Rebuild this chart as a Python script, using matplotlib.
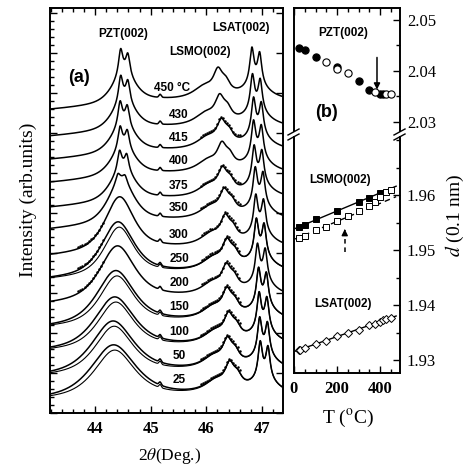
import numpy as np
import matplotlib
matplotlib.use("Agg")
import matplotlib.pyplot as plt
from matplotlib.lines import Line2D
from matplotlib.ticker import MultipleLocator, FixedLocator

plt.rcParams['mathtext.fontset'] = 'stix'
SERIF = 'Liberation Serif'
SANS = 'Liberation Sans'

# ---------------- panel (a) data: XRD scans ----------------
temps = [450, 430, 415, 400, 375, 350, 300, 250, 200, 150, 100, 50, 25]
offset = [303, 276.3, 253, 230, 205, 183, 156.3, 133, 108, 85, 61.3, 36.3, 13]
bg_rise = [8, 8, 8, 8, 8, 8, 7, 6, 6, 5, 4, 4, 3]
pzt_pos = [44.46, 44.46, 44.45, 44.45, 44.44, 44.41, 44.38, 44.35, 44.34, 44.31, 44.29, 44.26, 44.27]
pzt_width = [0.50, 0.50, 0.51, 0.52, 0.53, 0.56, 0.62, 0.70, 0.75, 0.80, 0.85, 0.90, 0.95]
pzt_amp = [30, 30, 30, 30, 33, 44, 55, 54, 55, 54, 52, 53, 53]
pzt_split = [25, 25, 23, 21, 19, 8, 0, 0, 0, 0, 0, 0, 0]
lsmo_pos = [46.21, 46.24, 46.27, 46.28, 46.29, 46.32, 46.34, 46.37, 46.36, 46.37, 46.40, 46.38, 46.42]
lsmo_amp = [22, 22, 21, 21, 21, 21, 22, 22, 22, 22, 22, 22, 22]
lsat_pos = [46.82, 46.83, 46.85, 46.85, 46.86, 46.88, 46.89, 46.90, 46.92, 46.94, 46.95, 46.96, 46.97]
lsat_amp = [34, 34, 34, 34, 34, 34, 34, 34, 34, 34, 34, 34, 34]
fit_temps = [250, 150, 100, 50, 25]
dot_temps = [415, 375, 350, 300, 250, 200, 150, 100, 50, 25]
flank_dot_temps = [300, 250, 200]
x_ticks_a = [44, 45, 46, 47]

# ---------------- panel (b) data: d-spacings ----------------
pzt_T_fill = [25, 50, 100, 200, 300, 350, 400, 415]
pzt_d_fill = [2.0445, 2.0441, 2.0427, 2.0408, 2.0380, 2.0363, 2.0354, 2.0354]
pzt_T_open = [150, 200, 250, 375, 430, 450]
pzt_d_open = [2.0418, 2.0403, 2.0397, 2.0358, 2.0354, 2.0354]
lsmo_T_fill = [25, 50, 100, 200, 300, 350, 400]
lsmo_d_fill = [1.9542, 1.9545, 1.9556, 1.9571, 1.9588, 1.9595, 1.9604]
lsmo_T_open = [25, 50, 100, 150, 200, 250, 300, 350, 375, 400, 430, 450]
lsmo_d_open = [1.9521, 1.9525, 1.9536, 1.9542, 1.9553, 1.9562, 1.9571, 1.9580, 1.9588, 1.9597, 1.9606, 1.9610]
lsmo_fit_T = [5, 475]
lsmo_fit_d = [1.9539, 1.9616]
lsmo_fit2_d = [1.9520, 1.9597]
lsat_T = [25, 30, 50, 100, 150, 200, 250, 300, 350, 375, 400, 415, 430, 450]
lsat_d = [1.9319, 1.9318, 1.9321, 1.9330, 1.9335, 1.9343, 1.9350, 1.9355, 1.9364, 1.9366, 1.9369, 1.9372, 1.9374, 1.9377]
lsat_fit_d = [1.9316, 1.9380]

W, H = 466, 474
fig = plt.figure(figsize=(W / 100, H / 100), dpi=100)


def fx(px):
    return px / W


def fy(py):
    return 1 - py / H


def lor(x, c, w):
    return 1.0 / (1.0 + ((x - c) / (w / 2)) ** 2)


def pv(x, c, w, eta):
    u = (x - c) / (w / 2)
    return eta / (1 + u ** 2) + (1 - eta) * np.exp(-np.log(2) * u ** 2)


# ---------------- panel (a) ----------------
X0, X1 = 43.19, 47.38
axa = fig.add_axes([fx(50), fy(413), fx(283) - fx(50), fy(8) - fy(413)])
axa.set_xlim(X0, X1)
axa.set_ylim(0, 405)
xx = np.linspace(X0, X1, 1600)


def scan(i, amp_scale=1.0, w_scale=1.0, shift=0.0):
    y = offset[i] + bg_rise[i] * np.clip((xx - X0) / (45.2 - X0), 0, 1)
    y = y + amp_scale * pzt_amp[i] * pv(xx, pzt_pos[i] + 0.06 + shift, pzt_width[i] * w_scale, 0.7)
    y = y + pzt_split[i] * (lor(xx, pzt_pos[i], 0.09) + 0.8 * lor(xx, pzt_pos[i] + 0.13, 0.09))
    y = y + 3 * np.exp(-0.5 * ((xx - 45.17) / 0.02) ** 2)
    lp = lsmo_pos[i]
    a = lsmo_amp[i]
    y = y + a * (lor(xx, lp, 0.2) + 0.5 * lor(xx, lp + 0.14, 0.2)) + 0.55 * a * lor(xx, lp - 0.25, 0.5)
    sp = lsat_pos[i]
    A = lsat_amp[i]
    y = y + A * lor(xx, sp, 0.09) + 0.87 * A * lor(xx, sp + 0.14, 0.09) + 0.5 * A * lor(xx, sp + 0.07, 0.55)
    return y


for i, T in enumerate(temps):
    y = scan(i)
    axa.plot(xx, y, color='k', lw=1.1)
    if T in fit_temps:
        yf = scan(i, amp_scale=0.9, w_scale=0.9, shift=0.02)
        axa.plot(xx, yf, color='k', lw=0.8)
    if T in dot_temps:
        sel = (xx > 45.9) & (xx < 46.6)
        if T in flank_dot_temps:
            sel = sel | ((xx > 43.7) & (xx < 44.15))
        xs = xx[sel][::14]
        ys = np.interp(xs, xx, y) + 1.8
        axa.plot(xs, ys, '.', color='k', ms=1.6)
    yl = np.interp(45.5, xx, y) + 9
    lab = '450 \u00b0C' if T == 450 else str(T)
    xl = 45.39 if T == 450 else 45.51
    axa.text(xl, yl, lab, ha='center', va='center', fontsize=8.5,
             fontweight='bold', family=SANS)

axa.text(44.51, 413 - 34, 'PZT(002)', ha='center', va='center', fontsize=8.5, fontweight='bold', family=SANS)
axa.text(45.89, 413 - 52.5, 'LSMO(002)', ha='center', va='center', fontsize=8.5, fontweight='bold', family=SANS)
axa.text(46.62, 413 - 27.5, 'LSAT(002)', ha='center', va='center', fontsize=8.5, fontweight='bold', family=SANS)
axa.text(43.71, 413 - 77, '(a)', ha='center', va='center', fontsize=13, fontweight='bold', family=SANS)

axa.xaxis.set_major_locator(FixedLocator(x_ticks_a))
axa.xaxis.set_minor_locator(MultipleLocator(0.2))
axa.yaxis.set_major_locator(MultipleLocator(40))
axa.yaxis.set_minor_locator(MultipleLocator(8))
axa.set_yticklabels([])
axa.tick_params(which='both', direction='in', top=True, bottom=True, left=True, right=False, width=1.0)
axa.tick_params(which='major', length=5)
axa.tick_params(which='minor', length=3)
axa.tick_params(axis='y', which='major', right=True)
axa.tick_params(axis='x', labelsize=12, pad=6)
for lbl in axa.get_xticklabels():
    lbl.set_family(SERIF)
    lbl.set_fontweight('bold')
for s in axa.spines.values():
    s.set_linewidth(1.4)

fig.text(fx(170), fy(456), r'2$\theta$(Deg.)', ha='center', va='center', fontsize=12.5, family=SERIF)
fig.text(fx(28), fy(200), 'Intensity (arb.units)', ha='center', va='center', rotation=90,
         fontsize=14, family=SERIF)

# ---------------- panel (b) ----------------
XB = (0, 493)
KX = 493 / 106.0
axt = fig.add_axes([fx(294), fy(131), fx(400) - fx(294), fy(8) - fy(131)])
axb = fig.add_axes([fx(294), fy(373), fx(400) - fx(294), fy(137) - fy(373)])
axt.set_xlim(*XB)
axb.set_xlim(*XB)
axt.set_ylim(2.03 - 9 / 5100, 2.05 + 12 / 5100)
axb.set_ylim(1.93 - 13 / 5500, 1.96 + 58 / 5500)

# PZT
axt.plot(pzt_T_fill, pzt_d_fill, 'o', ms=5.2, mfc='k', mec='k', mew=0.8)
axt.plot(pzt_T_open, pzt_d_open, 'o', ms=5.2, mfc='white', mec='k', mew=0.8)
axt.text(49 * KX, 2.05 - 13 / 5100, 'PZT(002)', ha='center', va='center', fontsize=8.5,
         fontweight='bold', family=SANS)
axt.text(33 * KX, 2.03 + 9 / 5100, '(b)', ha='center', va='center', fontsize=13,
         fontweight='bold', family=SANS)
axt.annotate('', xy=(386, 2.0358), xytext=(386, 2.0432),
             arrowprops=dict(arrowstyle='-|>', color='k', lw=1.1, mutation_scale=9))

# LSMO
axb.plot(lsmo_fit_T, lsmo_fit_d, '-', color='k', lw=1.0)
axb.plot(lsmo_fit_T, lsmo_fit2_d, '--', color='k', lw=1.0, dashes=(4, 3))
axb.plot(lsmo_T_fill, lsmo_d_fill, 's', ms=3.8, mfc='k', mec='k', mew=0.7)
axb.plot(lsmo_T_open, lsmo_d_open, 's', ms=3.8, mfc='white', mec='k', mew=0.7)
axb.plot([236, 236], [1.9496, 1.9532], '--', color='k', lw=1.1, dashes=(3, 2.5))
axb.annotate('', xy=(236, 1.9543), xytext=(236, 1.9530),
             arrowprops=dict(arrowstyle='-|>', color='k', lw=1.0, mutation_scale=9))
axb.text(46 * KX, 1.96 + 15 / 5500, 'LSMO(002)', ha='center', va='center', fontsize=8.5,
         fontweight='bold', family=SANS)

# LSAT
axb.plot(lsmo_fit_T, lsat_fit_d, '-', color='k', lw=1.0)
axb.plot(lsat_T, lsat_d, 'D', ms=3.8, mfc='white', mec='k', mew=0.7)
axb.text(49 * KX, 1.94 + 1 / 5500, 'LSAT(002)', ha='center', va='center', fontsize=8.5,
         fontweight='bold', family=SANS)

for ax in (axt, axb):
    ax.yaxis.tick_right()
    ax.xaxis.set_major_locator(FixedLocator([0, 200, 400]))
    ax.xaxis.set_minor_locator(MultipleLocator(50))
    ax.yaxis.set_major_locator(MultipleLocator(0.01))
    ax.yaxis.set_minor_locator(MultipleLocator(0.005))
    ax.tick_params(which='both', direction='in', left=False, right=True, width=1.0)
    ax.tick_params(which='major', length=5)
    ax.tick_params(which='minor', length=3)
    ax.tick_params(axis='y', labelsize=12, pad=5)
    for s in ax.spines.values():
        s.set_linewidth(1.4)

axt.spines['bottom'].set_visible(False)
axt.tick_params(axis='x', which='both', top=True, bottom=False, labelbottom=False)
axt.set_yticks([2.03, 2.04, 2.05])
axt.set_yticklabels(['2.03', '2.04', '2.05'])
axb.spines['top'].set_visible(False)
axb.tick_params(axis='x', which='both', top=False, bottom=True, labelsize=12, pad=6)
axb.set_yticks([1.93, 1.94, 1.95, 1.96])
axb.set_yticklabels(['1.93', '1.94', '1.95', '1.96'])
for lbl in axb.get_xticklabels():
    lbl.set_family(SERIF)
    lbl.set_fontweight('bold')
for lbl in axt.get_yticklabels() + axb.get_yticklabels():
    lbl.set_family(SERIF)

# break marks
for xs in (294, 400):
    for dy in (0, 5):
        fig.add_artist(Line2D([fx(xs - 6), fx(xs + 5)], [fy(135 + dy), fy(129 + dy)],
                              transform=fig.transFigure, color='k', lw=1.0))

fig.text(fx(348), fy(418), r'T ($^{\rm o}$C)', ha='center', va='center', fontsize=14, family=SERIF)
fig.text(fx(455), fy(215), r'$d$ (0.1 nm)', ha='center', va='center', rotation=90,
         fontsize=14, family=SERIF)

fig.savefig('out.png', dpi=100)
